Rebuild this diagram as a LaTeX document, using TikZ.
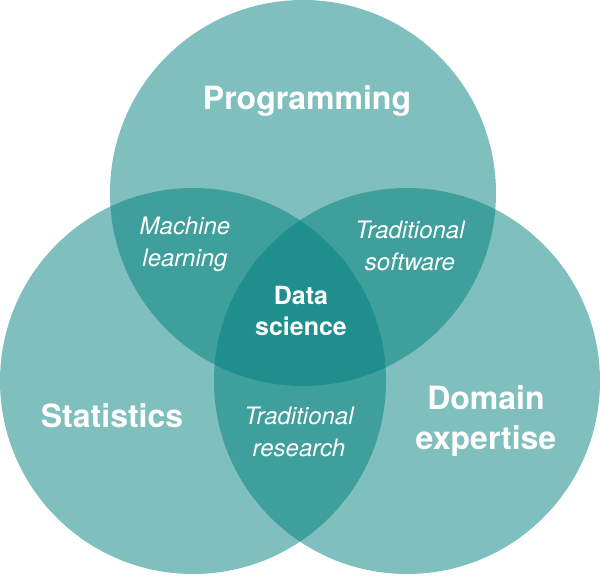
\documentclass[tikz,border=0pt]{standalone}
\usepackage{fontspec}
\setmainfont{TeX Gyre Heros}
\usepackage{tikz}
\usetikzlibrary{positioning}
\definecolor{vennteal}{RGB}{0,127,125}

\begin{document}
\begin{tikzpicture}[
    x=1pt, y=1pt,
    venn/.style={
        circle,
        fill=vennteal,
        fill opacity=0.5,
        minimum size=386pt,
        inner sep=0pt
    },
    biglabel/.style={text=white, font=\fontsize{32}{40}\selectfont\bfseries, align=center, anchor=base},
    midlabel/.style={text=white, font=\fontsize{25}{31}\selectfont\bfseries, align=center, anchor=base},
    smalllabel/.style={text=white, font=\fontsize{24}{32}\selectfont\itshape, align=center, anchor=base}
]
\useasboundingbox (0,0) rectangle (600,576);

% ---------------------------------------------------------------- Circles
\node[venn] (prog)   at (303, 383) {};
\node[venn] (stats)  at (193, 195) {};
\node[venn] (domain) at (407, 195) {};

% ---------------------------------------------------------------- Set labels
% (base anchor sits on the last line of a multi-line label)
\node[biglabel] (progLabel)   at (307, 466) {Programming};
\node[biglabel] (statsLabel)  at (112, 148) {Statistics};
\node[biglabel] (domainLabel) at (486, 126) {Domain\\expertise};

% ---------------------------------------------------------------- Overlaps
\node[smalllabel] (mlLabel)  at (185, 309) {Machine\\learning};
\node[smalllabel] (swLabel)  at (410, 305) {Traditional\\software};
\node[smalllabel] (resLabel) at (299, 119) {Traditional\\research};
\node[midlabel]   (dsLabel)  at (301, 240) {Data\\science};

\end{tikzpicture}
\end{document}
